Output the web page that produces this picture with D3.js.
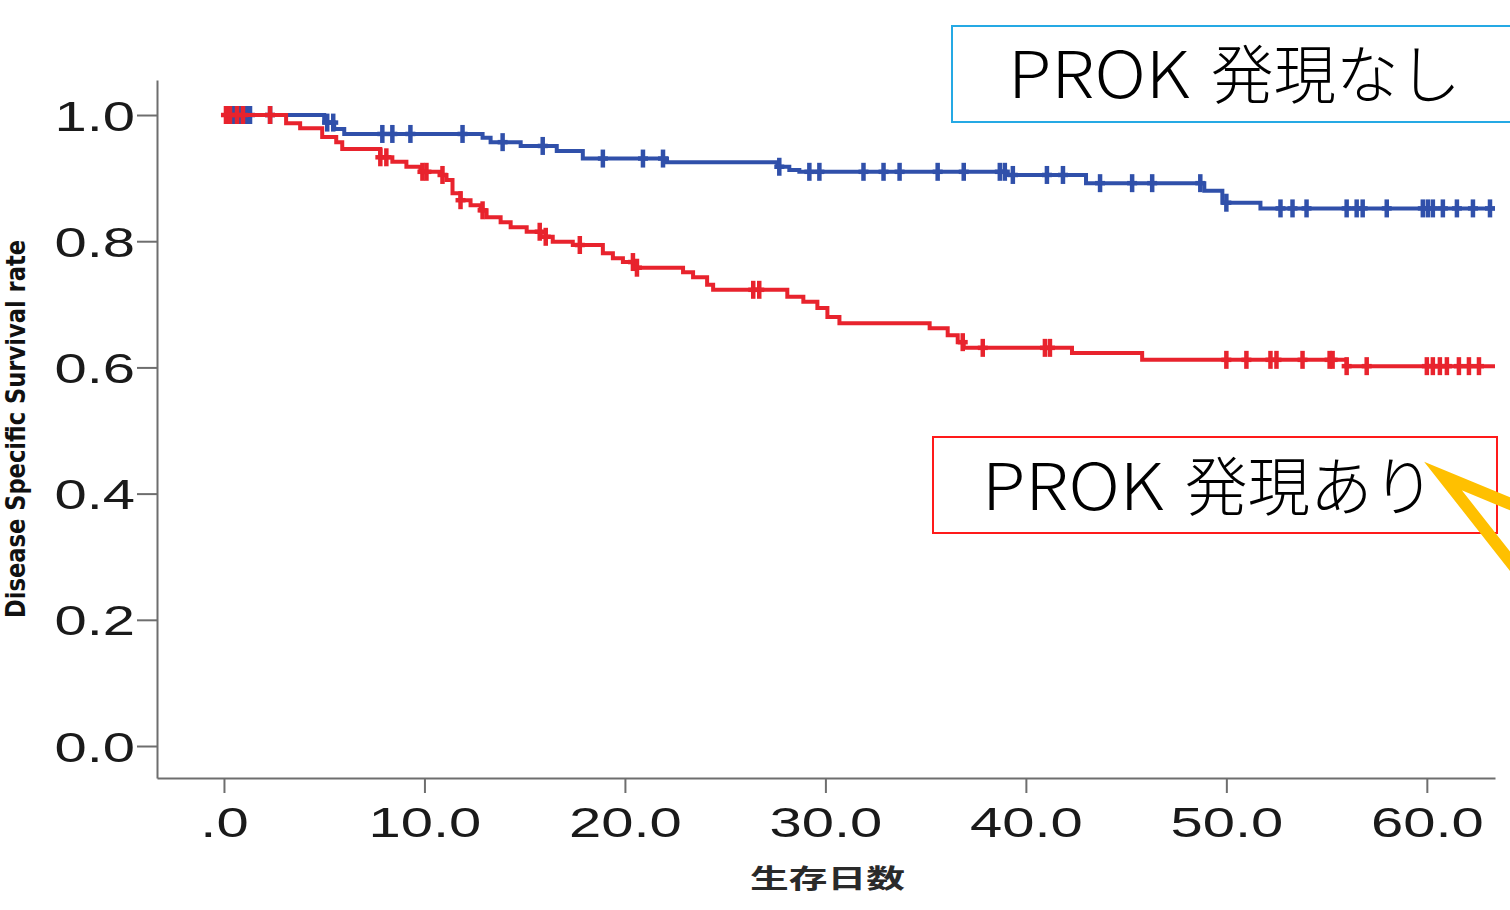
<!DOCTYPE html>
<html>
<head>
<meta charset="utf-8">
<script src="https://cdn.jsdelivr.net/npm/d3@7"></script>
<style>
  body { margin: 0; background: #fff; }
  svg { display: block; }
</style>
</head>
<body>
<svg id="chart" width="1510" height="910"></svg>
<script>
//----------data----------
// step times (months) and survival after each step
const noneT = [0, 5.0, 5.5, 6.0, 12.9, 13.3, 14.8, 16.6, 17.9, 22.1, 27.6, 28.2, 28.7, 39.0, 43.0, 48.9, 49.8, 51.7];
const noneS = [1.0, 0.988, 0.978, 0.970, 0.964, 0.957, 0.951, 0.943, 0.931, 0.925, 0.918, 0.913, 0.910, 0.905, 0.892, 0.880, 0.861, 0.852];
const noneCensor = [0.45, 0.8, 1.15, 1.3, 2.3, 5.15, 5.45, 7.9, 8.4, 9.3, 11.9, 13.9, 15.9, 18.9, 20.9, 21.9, 27.7, 29.2, 29.7, 31.9, 32.9, 33.7, 35.6, 36.9, 38.7, 38.95, 39.35, 41.05, 41.85, 43.7, 45.3, 46.3, 48.7, 50.0, 52.7, 53.3, 54.0, 56.0, 56.5, 56.8, 58.0, 59.8, 60.05, 60.3, 60.8, 61.5, 62.3, 63.15];

const expT = [0, 3.1, 3.8, 4.9, 5.6, 5.9, 7.8, 8.4, 9.1, 9.8, 10.8, 11.1, 11.4, 11.8, 12.3, 12.8, 13.1, 13.8, 14.3, 15.1, 15.8, 16.4, 17.4, 18.9, 19.4, 19.9, 20.6, 22.9, 23.4, 24.1, 24.4, 28.1, 28.9, 29.6, 30.1, 30.7, 35.2, 36.1, 36.6, 36.9, 42.3, 45.8, 56.0];
const expS = [1.0, 0.987, 0.979, 0.965, 0.957, 0.946, 0.933, 0.926, 0.918, 0.910, 0.905, 0.897, 0.876, 0.865, 0.857, 0.849, 0.838, 0.830, 0.822, 0.815, 0.807, 0.799, 0.794, 0.781, 0.773, 0.767, 0.758, 0.751, 0.743, 0.731, 0.723, 0.712, 0.704, 0.694, 0.680, 0.670, 0.662, 0.651, 0.640, 0.631, 0.623, 0.612, 0.602];
const expCensor = [0.1, 0.3, 0.65, 0.95, 2.3, 7.8, 8.1, 9.9, 10.1, 10.9, 11.8, 12.9, 15.75, 16.05, 17.75, 20.4, 20.6, 26.4, 26.7, 36.85, 37.85, 40.95, 41.2, 50.0, 51.0, 52.2, 52.5, 53.8, 55.15, 55.3, 56.0, 57.0, 60.0, 60.3, 60.65, 61.0, 61.6, 62.1, 62.6];

const endTime = 63.4;
const xTicks = [0, 10, 20, 30, 40, 50, 60];
const yTicks = [0, 0.2, 0.4, 0.6, 0.8, 1.0];
const labelNone = ["PROK", "発現なし"];
const labelExp = ["PROK", "発現あり"];
const xTitle = "生存日数";
const yTitle = "Disease Specific Survival rate";

//----------setup----------
const svg = d3.select("#chart");
const blue = "#3050aa";
const red = "#e8232d";

const x = d3.scaleLinear().domain([-3.34, 63.4]).range([157, 1495]);
const y = d3.scaleLinear().domain([-0.0507, 1.0555]).range([778, 80]);

// step value at time t
function survAt(T, S, t) {
  let i = d3.bisectRight(T, t) - 1;
  return S[Math.max(i, 0)];
}

//----------axes----------
const stretch = 1.38;
const xAxis = d3.axisBottom(x)
  .tickValues(xTicks)
  .tickSize(15)
  .tickSizeOuter(0)
  .tickFormat(d => d === 0 ? ".0" : d.toFixed(1));

const gx = svg.append("g")
  .attr("transform", "translate(0,778)")
  .call(xAxis);
gx.select(".domain").attr("stroke", "#6e6e6e").attr("stroke-width", 2);
gx.selectAll(".tick line").attr("stroke", "#6e6e6e").attr("stroke-width", 2);
gx.selectAll(".tick text")
  .attr("y", 59).attr("dy", 0)
  .attr("transform", `scale(${stretch},1)`)
  .attr("fill", "#1a1a1a")
  .style("font-family", "'Liberation Sans', Arial, sans-serif")
  .style("font-size", "42px");

const yAxis = d3.axisLeft(y)
  .tickValues(yTicks)
  .tickSize(20)
  .tickSizeOuter(0)
  .tickFormat(d3.format(".1f"));

const gy = svg.append("g")
  .attr("transform", "translate(157,0)")
  .call(yAxis);
gy.select(".domain").attr("stroke", "#6e6e6e").attr("stroke-width", 2);
gy.selectAll(".tick line").attr("stroke", "#6e6e6e").attr("stroke-width", 2);
gy.selectAll(".tick text")
  .attr("x", -22 / stretch).attr("dy", 0).attr("y", 15)
  .attr("transform", `scale(${stretch},1)`)
  .attr("fill", "#1a1a1a")
  .style("font-family", "'Liberation Sans', Arial, sans-serif")
  .style("font-size", "42px");

// axis titles
svg.append("text")
  .attr("x", 750).attr("y", 888)
  .attr("textLength", 155)
  .attr("lengthAdjust", "spacingAndGlyphs")
  .attr("fill", "#2a2a2a")
  .style("font-family", "'Noto Sans CJK JP', sans-serif")
  .style("font-weight", "700")
  .style("font-size", "26px")
  .text(xTitle);

svg.append("text")
  .attr("transform", "translate(25,618) rotate(-90)")
  .attr("textLength", 378)
  .attr("lengthAdjust", "spacingAndGlyphs")
  .attr("fill", "#111")
  .style("font-family", "'Liberation Sans Narrow', 'DejaVu Sans Condensed', sans-serif")
  .style("font-weight", "700")
  .style("font-size", "27px")
  .text(yTitle);

//----------curves----------
const line = d3.line()
  .x(d => x(d[0]))
  .y(d => y(d[1]))
  .curve(d3.curveStepAfter);

function drawCurve(T, S, censor, color) {
  let pts = T.map((t, i) => [t, S[i]]);
  pts.push([endTime, S[S.length - 1]]);
  svg.append("path")
    .datum(pts)
    .attr("fill", "none")
    .attr("stroke", color)
    .attr("stroke-width", 4)
    .attr("d", line);

  let marks = svg.append("g").attr("stroke", color).attr("stroke-width", 4.5);
  censor.forEach(t => {
    let cx = x(t), cy = y(survAt(T, S, t));
    marks.append("line").attr("x1", cx).attr("x2", cx).attr("y1", cy - 9).attr("y2", cy + 9);
    marks.append("line").attr("x1", cx - 5).attr("x2", cx + 5).attr("y1", cy).attr("y2", cy);
  });
}

drawCurve(noneT, noneS, noneCensor, blue);
drawCurve(expT, expS, expCensor, red);

//----------legend boxes----------
function legendText(parts, x0, baseline) {
  let t = svg.append("text")
    .attr("y", baseline)
    .attr("fill", "#000")
    .style("font-family", "'Noto Sans CJK JP', sans-serif")
    .style("font-weight", "300")
    .style("font-size", "64px");
  t.append("tspan").attr("x", x0).attr("textLength", 182)
    .attr("lengthAdjust", "spacingAndGlyphs").text(parts[0]);
  t.append("tspan").attr("x", x0 + 203).attr("textLength", 250)
    .attr("lengthAdjust", "spacingAndGlyphs").text(parts[1]);
}

svg.append("rect")
  .attr("x", 952).attr("y", 26).attr("width", 600).attr("height", 96)
  .attr("fill", "#fff").attr("stroke", "#25a9e4").attr("stroke-width", 2);
legendText(labelNone, 1008, 98);

svg.append("rect")
  .attr("x", 933).attr("y", 437).attr("width", 564).attr("height", 96)
  .attr("fill", "#fff").attr("stroke", "#ff1a1a").attr("stroke-width", 2);
legendText(labelExp, 982, 510);

// orange pointer
svg.append("path")
  .attr("d", "M1520,508 L1443,476 L1520,574")
  .attr("fill", "none")
  .attr("stroke", "#ffc000")
  .attr("stroke-width", 12)
  .attr("stroke-linejoin", "miter")
  .attr("stroke-miterlimit", 10);
</script>
</body>
</html>
